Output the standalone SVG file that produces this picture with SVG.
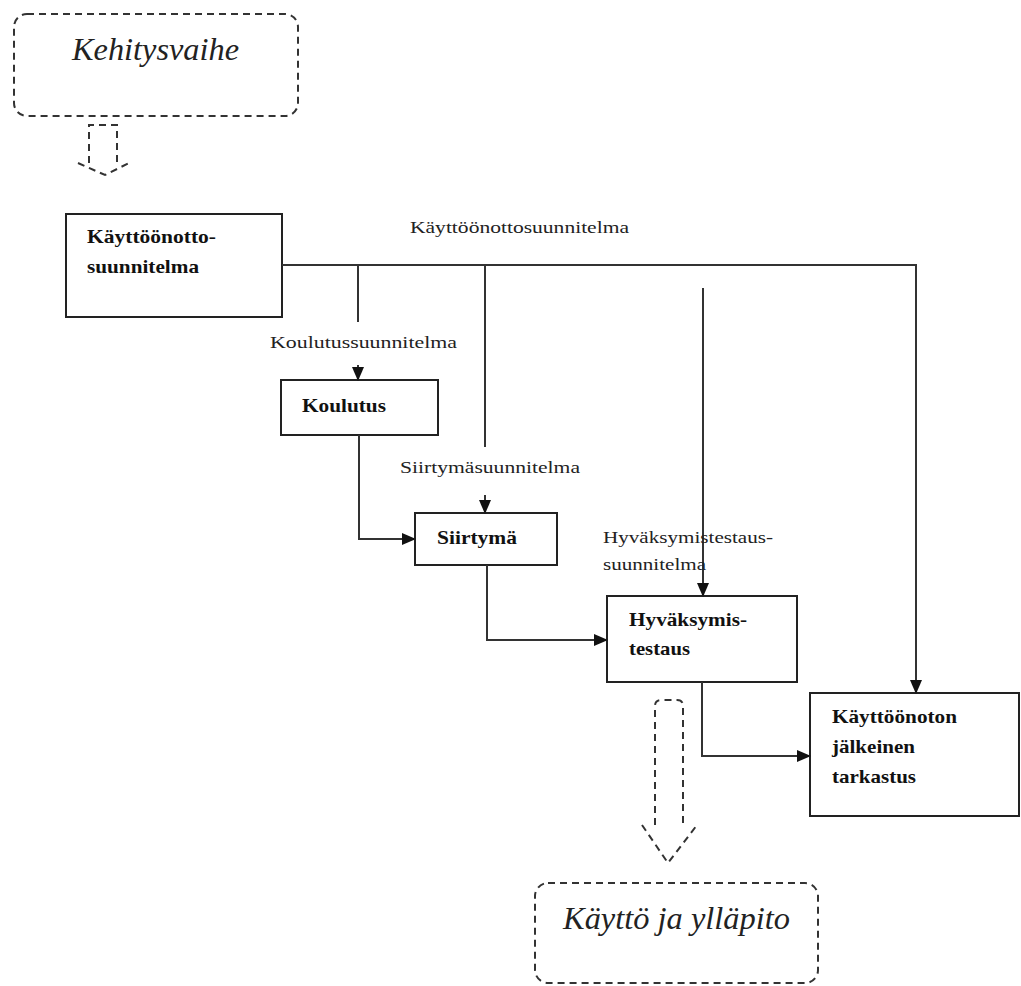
<svg xmlns="http://www.w3.org/2000/svg" width="1021" height="986" viewBox="0 0 1021 986">
<style>
.box{fill:#fff;stroke:#222;stroke-width:2}
.dash{fill:none;stroke:#333;stroke-width:2;stroke-dasharray:7 5}
.b{font-family:"Liberation Serif","Times New Roman",serif;font-weight:bold;font-size:19px;fill:#111}
.r{font-family:"Liberation Serif","Times New Roman",serif;font-size:17px;fill:#222}
.i{font-family:"Liberation Serif","Times New Roman",serif;font-style:italic;font-size:31px;fill:#222}
.ln{fill:none;stroke:#333;stroke-width:2}
</style>
<defs>
<marker id="ah" markerWidth="14" markerHeight="12" refX="13" refY="6" orient="auto" markerUnits="userSpaceOnUse">
<path d="M0,0 L14,6 L0,12 z" fill="#111"/>
</marker>
</defs>
<rect width="1021" height="986" fill="#fff"/>

<g id="kehitysvaihe">
<rect class="dash" x="14" y="14" width="284" height="102" rx="13"/>
<text class="i" x="72" y="60" textLength="167" lengthAdjust="spacingAndGlyphs">Kehitysvaihe</text>
</g>
<g id="arrow-top">
<path class="dash" d="M89,163 V125 H117 V163 M78,163 L105,175 L129,163" stroke-dasharray="6 5"/>
</g>

<g id="kayttoonottosuunnitelma">
<rect class="box" x="66" y="214" width="216" height="103"/>
<text class="b" x="87" y="243" textLength="129" lengthAdjust="spacingAndGlyphs">Käyttöönotto-</text>
<text class="b" x="87" y="273" textLength="112" lengthAdjust="spacingAndGlyphs">suunnitelma</text>
</g>

<g id="koulutus">
<rect class="box" x="281" y="380" width="157" height="55"/>
<text class="b" x="302" y="412" textLength="84" lengthAdjust="spacingAndGlyphs">Koulutus</text>
</g>

<g id="siirtyma">
<rect class="box" x="415" y="513" width="142" height="52"/>
<text class="b" x="437" y="544" textLength="80" lengthAdjust="spacingAndGlyphs">Siirtymä</text>
</g>

<g id="hyvaksymistestaus">
<rect class="box" x="607" y="596" width="190" height="86"/>
<text class="b" x="629" y="626" textLength="118" lengthAdjust="spacingAndGlyphs">Hyväksymis-</text>
<text class="b" x="629" y="655" textLength="61" lengthAdjust="spacingAndGlyphs">testaus</text>
</g>

<g id="jalkeinen-tarkastus">
<rect class="box" x="810" y="693" width="209" height="123"/>
<text class="b" x="832" y="723" textLength="125" lengthAdjust="spacingAndGlyphs">Käyttöönoton</text>
<text class="b" x="832" y="753" textLength="83" lengthAdjust="spacingAndGlyphs">jälkeinen</text>
<text class="b" x="832" y="783" textLength="84" lengthAdjust="spacingAndGlyphs">tarkastus</text>
</g>

<g id="arrow-bottom">
<path class="dash" d="M655,825 V706 Q655,700 661,700 H677 Q683,700 683,706 V825 M642,825 L668,863 L697,825" stroke-dasharray="6 5"/>
</g>

<g id="kaytto-yllapito">
<rect class="dash" x="535" y="883" width="283" height="100" rx="13"/>
<text class="i" x="563" y="929" textLength="227" lengthAdjust="spacingAndGlyphs">Käyttö ja ylläpito</text>
</g>

<g id="connectors">
<path class="ln" d="M282,265 H916 V693" marker-end="url(#ah)"/>
<path class="ln" d="M358,265 V322"/>
<path class="ln" d="M358,365 V380" marker-end="url(#ah)"/>
<path class="ln" d="M485,265 V447"/>
<path class="ln" d="M485,495 V513" marker-end="url(#ah)"/>
<path class="ln" d="M703,288 V596" marker-end="url(#ah)"/>
<path class="ln" d="M359,435 V539 H415" marker-end="url(#ah)"/>
<path class="ln" d="M487,565 V640 H607" marker-end="url(#ah)"/>
<path class="ln" d="M702,682 V756 H810" marker-end="url(#ah)"/>
</g>

<g id="labels">
<text class="r" x="410" y="233" textLength="219" lengthAdjust="spacingAndGlyphs">Käyttöönottosuunnitelma</text>
<text class="r" x="270" y="348" textLength="187" lengthAdjust="spacingAndGlyphs">Koulutussuunnitelma</text>
<text class="r" x="400" y="473" textLength="180" lengthAdjust="spacingAndGlyphs">Siirtymäsuunnitelma</text>
<text class="r" x="603" y="543" textLength="170" lengthAdjust="spacingAndGlyphs">Hyväksymistestaus-</text>
<text class="r" x="603" y="570" textLength="103" lengthAdjust="spacingAndGlyphs">suunnitelma</text>
</g>
</svg>
